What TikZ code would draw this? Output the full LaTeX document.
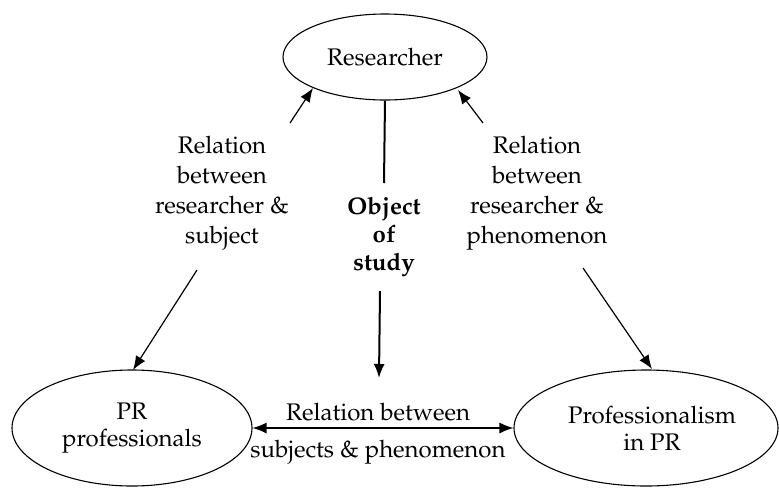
\documentclass[tikz,border=0pt]{standalone}
\usepackage[T1]{fontenc}
\usepackage{mathpazo}
\usetikzlibrary{arrows.meta,shapes.geometric}
\begin{document}
\begin{tikzpicture}[x=1pt,y=-1pt,
  oval/.style={draw, line width=1.1pt, ellipse, inner sep=0pt, align=center, font=\fontsize{24}{27}\selectfont},
  txt/.style={align=center, font=\fontsize{24}{30}\selectfont, inner sep=0pt},
  arr/.style={line width=1.2pt, -{Latex[length=14pt,width=11pt]}},
  darr/.style={line width=1.2pt, {Latex[length=14pt,width=11pt]}-{Latex[length=14pt,width=11pt]}}
]
\useasboundingbox (0,0) rectangle (779,488);
\node[oval, minimum width=204pt, minimum height=86pt] (res) at (385,57) {Researcher};
\node[oval, minimum width=240pt, minimum height=116pt] (prp) at (132,428) {PR\\professionals};
\node[oval, minimum width=264pt, minimum height=116pt] (pip) at (646,428) {\hspace*{12pt}Professionalism\\\hspace*{12pt}in PR};
\node[txt] (lt) at (222,193) {Relation\\between\\researcher \&\\subject};
\node[txt] (rt) at (537,193) {Relation\\between\\researcher \&\\phenomenon};
\node[txt, font=\fontsize{24}{28}\selectfont\bfseries] (obj) at (384,237) {Object\\of\\study};
\node[txt] (bt1) at (378,412) {Relation between};
\node[txt] (bt2) at (378,452) {subjects \& phenomenon};
% coordinates
\coordinate (a1) at (290,123); \coordinate (a1t) at (313,88);
\coordinate (a2) at (483,123); \coordinate (a2t) at (458,90);
\coordinate (b1) at (197,270); \coordinate (b1t) at (133,370);
\coordinate (b2) at (583,268); \coordinate (b2t) at (652,369);
\coordinate (c1) at (384,183);
\coordinate (c2) at (380,291); \coordinate (c2t) at (379,378);
\draw[arr] (a1) -- (a1t);
\draw[arr] (a2) -- (a2t);
\draw[arr] (b1) -- (b1t);
\draw[arr] (b2) -- (b2t);
\draw[line width=2pt] (res.south) -- (c1);
\draw[arr, line width=2pt] (c2) -- (c2t);
\draw[darr] (prp.east) -- (pip.west);
\end{tikzpicture}
\end{document}
